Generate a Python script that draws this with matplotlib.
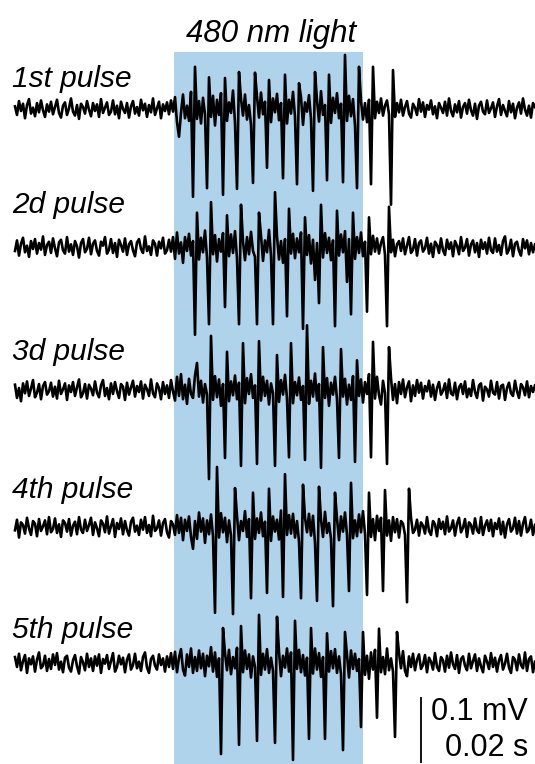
import numpy as np
import matplotlib
matplotlib.use("Agg")
import matplotlib.pyplot as plt
from matplotlib.patches import Rectangle

# ---------------- data ----------------
sample_ms = 0.25                      # time between samples (ms)
trace_labels = ["1st pulse", "2d pulse", "3d pulse", "4th pulse", "5th pulse"]
light_label = "480 nm light"
light_on_ms = 19.9
light_off_ms = 43.5
scale_bar_uV = 100                    # 0.1 mV
scale_v_label = "0.1 mV"
scale_t_label = "0.02 s"

# background recordings (µV), one value per sample
noise_1 = [4,-9,12,-3,8,-14,6,15,-7,2,-11,9,-5,13,-2,-12,7,-4,11,-8,
           3,14,-6,-13,5,10,-9,1,16,-4,-10,6,-15,8,3,-7,12,-1,-11,9,
           -3,7,-12,15,-6,2,10,-9,-4,13,-8,5,-14,11,0,-6,9,-13,4,12,
           -7,3,-10,14,-2,8,-12,6,-5,16,-9,1,11,-14,7,-3,10,-8,13,-4,
           18,-20,-42,-6,22,-14,5,-18,26,0,0,-15,12,-22,17,-8,0,0,-12,20,
           -25,14,-9,24,0,0,-18,10,-6,28,-21,0,0,15,-10,22,-16,6,-24,0,
           0,19,-13,25,-8,11,0,0,-20,16,-5,23,-17,9,0,0,-22,14,-7,26,
           -12,0,0,18,-24,10,-4,21,-15,0,0,13,-19,27,-9,6,0,0,-21,17,
           -6,24,-14,8,0,0,-18,20,-11,15,-25,0,0,12,-16,9,-20,14,0,0,
           -14,11,-6,16,-10,5,13,-8,0,0,-12,9,-5,14,-10,3,12,-7,-13,8,
           2,-9,15,-4,10,-12,6,-1,13,-8,4,-14,9,2,-6,11,-10,16,-3,-11,
           7,-5,12,-13,3,9,-7,14,-2,-10,8,-15,5,11,-4,-8,13,-6,1,10,
           -12,4,15,-9,6,-3,-11,12,-5,8,-14,2,10,-7,16,-1,-10,5,-13,9,
           3]
noise_2 = [-6,10,-13,5,14,-8,2,-15,9,-3,12,-10,6,-4,16,-12,3,8,-9,13,
           -2,-14,7,11,-5,-10,15,-7,4,-12,9,1,-16,6,12,-8,-3,14,-11,5,
           10,-6,-13,8,2,15,-10,-4,12,-9,6,-15,11,3,-7,13,-12,4,9,-5,
           -14,7,12,-3,-9,16,-6,1,-12,10,5,-13,8,-2,14,-10,-5,11,-7,15,
           -18,22,-10,7,-24,15,-6,20,-13,9,0,0,-19,14,-8,25,-16,0,0,-11,
           18,-22,12,-7,21,0,0,-14,19,-9,24,-17,0,0,8,-20,15,-11,23,-6,
           -15,0,0,17,-21,10,-8,26,-13,0,0,16,-19,9,-24,12,0,0,-10,20,
           -17,13,-8,22,0,0,-12,18,-25,11,-50,6,0,0,-16,21,-9,14,-20,10,
           0,0,-13,19,-8,24,-53,12,0,0,-18,15,-9,22,-14,8,0,0,-11,17,
           -7,13,-10,6,15,-12,0,0,-8,11,-14,4,9,-6,13,-11,2,15,-9,-4,
           12,-13,6,10,-7,-2,14,-10,5,-15,8,3,-9,13,-5,-12,11,-3,7,-14,
           9,2,-11,15,-6,-1,12,-13,4,10,-8,6,-15,11,-3,7,-10,14,-5,-9,
           13,-7,3,-12,9,16,-10,-4,11,-14,5,8,-6,-13,12,-2,10,-11,6,-8,
           4]
noise_3 = [8,-12,3,-17,10,-5,13,-9,2,15,-11,-4,9,-14,6,12,-7,-2,11,-10,
           5,-13,14,-6,1,10,-15,7,-3,12,-9,4,16,-11,-5,9,-13,8,2,-8,
           13,-4,-11,7,15,-9,3,-14,10,-6,12,-2,-12,9,5,-15,11,-7,4,14,
           -10,6,-3,13,-13,8,1,-9,16,-5,-11,10,3,-14,12,-6,7,-12,15,-2,
           -16,20,-9,24,-14,8,-21,17,-6,-12,22,41,-10,14,-19,9,-7,0,0,-15,
           21,-11,16,-24,9,0,0,-17,13,-8,22,-14,11,0,0,-20,18,-6,24,-12,
           7,0,0,-16,20,-9,14,-22,10,-5,0,0,-18,15,-7,23,-13,0,0,-20,
           12,-8,19,-15,6,0,0,-21,14,-10,25,-16,9,0,0,-12,18,-24,11,-7,
           20,-14,0,0,-10,17,-22,8,-15,21,0,0,-9,16,-19,12,-6,24,0,0,
           -13,20,-8,-22,14,-5,0,0,18,-15,9,-20,12,-6,16,-11,4,13,-17,7,
           -9,15,-4,11,-13,6,-2,14,-10,8,-15,3,12,-7,-1,10,-12,16,-5,-8,
           11,-14,4,9,-6,13,-11,2,-9,15,-3,-12,7,10,-16,5,1,-10,14,-4,
           -7,12,-13,6,8,-15,3,11,-5,-9,14,-2,-12,9,4,-8,13,-11,6,-3,
           7]
noise_4 = [-5,11,-16,7,3,-10,14,-2,-12,9,5,-14,12,-6,1,10,-11,15,-8,-3,
           13,-9,4,-15,10,6,-7,12,-13,2,8,-11,15,-4,-9,11,-6,3,14,-12,
           7,-2,-14,10,5,-8,16,-10,1,12,-15,6,-3,13,-11,9,-5,-13,8,14,
           -7,2,-12,11,-4,15,-9,3,-14,17,-6,-2,10,-13,6,12,-8,-16,9,4,
           -12,18,-9,14,-20,11,-6,16,-15,-33,9,-18,22,-7,13,-24,10,-11,19,-14,
           0,0,-16,21,-8,14,-23,10,-13,0,0,17,-20,9,-6,24,-15,12,0,0,
           -18,13,-9,22,-14,8,0,0,-21,16,-7,11,-19,25,0,0,-12,18,-10,20,
           -16,9,-22,0,0,14,-8,20,-13,17,-24,0,0,11,-15,23,-9,6,-18,0,
           0,13,-20,16,-7,22,-12,0,0,-17,10,-14,19,-8,24,-11,0,0,-15,12,
           -20,17,-6,14,0,0,-13,10,-21,15,-8,12,-16,9,5,-12,0,0,14,-9,
           -4,11,-13,7,2,-10,15,-6,-12,9,4,-14,12,-3,8,-11,16,-7,-2,10,
           -13,5,14,-8,-1,12,-15,7,3,-10,13,-5,-9,15,-12,2,10,-6,11,-14,
           6,-3,13,-11,8,-16,4,12,-7,-2,14,-10,9,-13,5,15,-8,-4,11,-12,
           3]
noise_5 = [9,-6,14,-11,3,12,-15,7,-2,10,-13,5,16,-8,-4,11,-12,6,-9,13,
           -3,15,-10,2,-14,8,11,-7,-13,4,12,-5,-16,9,1,-11,14,-6,7,-12,
           10,-4,13,-15,6,-1,12,-9,3,15,-13,-6,11,-2,8,-14,5,13,-10,-3,
           14,-8,2,-12,9,16,-7,-15,6,11,-4,-10,13,-3,7,-13,10,-6,15,-9,
           17,-14,8,21,-10,-19,13,-6,22,-15,9,-12,19,-8,14,-20,11,-5,24,-13,
           16,-21,7,0,0,15,-11,20,-17,9,-8,23,0,0,-14,19,-9,13,-22,10,
           -6,0,0,-18,14,-10,21,-15,8,-12,0,0,17,-20,11,-7,22,-13,16,0,
           0,-9,20,-14,12,-19,8,0,0,-16,22,-10,15,-21,9,0,0,-13,18,-8,
           21,-15,10,-17,0,0,13,-22,19,-9,14,-12,6,0,0,-18,11,-24,16,-10,
           20,0,0,-14,9,-17,22,-11,7,-13,0,0,15,-8,18,-12,-20,10,-6,14,
           -11,5,13,-9,-3,12,-14,8,2,-10,15,-6,-12,9,4,-13,11,-7,16,-2,
           -9,12,-15,6,10,-4,-11,14,-8,3,13,-12,7,-5,-14,11,2,-9,15,-6,
           8,-13,4,12,-10,-1,14,-7,-15,9,5,-11,13,-3,-8,16,-12,6,10,-14,
           2]

# evoked spikes: trough time (ms), trough (µV), following peak (µV)
spike_ms_1 = [22.25, 24.0, 26.0, 27.75, 29.75, 31.5, 33.5, 35.25, 37.25, 39.0, 41.0, 42.75, 44.5, 47.0]
spike_trough_1 = [-133, -120, -130, -121, -112, -89, -105, -114, -124, -108, -111, -120, -114, -145]
spike_peak_1 = [64, 48, 47, 56, 55, 44, 52, 39, 56, 52, 82, 64, 64, 59]

spike_ms_2 = [22.5, 24.25, 26.25, 28.0, 30.25, 32.25, 34.0, 36.0, 38.0, 40.0, 42.0, 44.0, 46.5]
spike_trough_2 = [-133, -117, -91, -117, -117, -117, -105, -124, -85, -120, -102, -98, -120]
spike_peak_2 = [52, 68, 48, 64, 52, 83, 58, 45, 64, 55, 52, 45, 61]

spike_ms_3 = [24.25, 26.25, 28.25, 30.25, 32.5, 34.25, 36.25, 38.25, 40.5, 42.5, 44.5, 46.5]
spike_trough_3 = [-135, -103, -115, -112, -115, -102, -106, -118, -103, -109, -102, -112]
spike_peak_3 = [82, 58, 71, 74, 53, 71, 98, 65, 62, 45, 73, 65]

spike_ms_4 = [25.0, 27.25, 29.5, 31.5, 33.5, 35.75, 37.75, 39.75, 41.75, 44.0, 46.0, 49.0]
spike_trough_4 = [-130, -132, -108, -100, -106, -108, -112, -120, -97, -103, -97, -114]
spike_peak_4 = [91, 59, 52, 58, 80, 64, 61, 52, 67, 52, 56, 58]

spike_ms_5 = [25.75, 28.0, 30.25, 32.5, 34.75, 36.75, 38.75, 41.0, 43.25, 45.25, 47.5]
spike_trough_5 = [-138, -124, -118, -121, -147, -115, -115, -132, -97, -83, -112]
spike_peak_5 = [53, 56, 73, 70, 64, 53, 45, 47, 47, 52, 47]

noises = [noise_1, noise_2, noise_3, noise_4, noise_5]
spikes = [(spike_ms_1, spike_trough_1, spike_peak_1),
          (spike_ms_2, spike_trough_2, spike_peak_2),
          (spike_ms_3, spike_trough_3, spike_peak_3),
          (spike_ms_4, spike_trough_4, spike_peak_4),
          (spike_ms_5, spike_trough_5, spike_peak_5)]

# ---------------- layout (pixels of the 535x764 figure) ----------------
W_PX, H_PX = 535, 764
X0_PX = 15.0            # pixel of t = 0
PX_PER_MS = 8.0
UV_PER_PX = 100.0 / 66.0
baselines_px = [109, 247, 390, 527, 663]
label_base_px = [87, 213, 360, 498, 638]
light_top_px = 52


def xd(px):
    return (px - X0_PX) / PX_PER_MS


def yd(px):
    return -px * UV_PER_PX


plt.rcParams['font.family'] = ['Liberation Sans', 'DejaVu Sans']

fig = plt.figure(figsize=(W_PX / 100, H_PX / 100), dpi=100)
ax = fig.add_axes([0, 0, 1, 1])
ax.set_xlim(xd(0), xd(W_PX))
ax.set_ylim(yd(H_PX), yd(0))
ax.axis('off')

# light period
ax.add_patch(Rectangle((light_on_ms, yd(H_PX)), light_off_ms - light_on_ms,
                       yd(light_top_px) - yd(H_PX), facecolor='#aed3ea',
                       edgecolor='none', zorder=0))
ax.text((light_on_ms + light_off_ms) / 2 + 0.3, yd(42), light_label,
        ha='center', va='baseline', fontsize=22.5, style='italic')

for k, (noise, (sms, str_, spk)) in enumerate(zip(noises, spikes)):
    v = np.array(noise, dtype=float)
    for t, tr, pk in zip(sms, str_, spk):
        i = int(round(t / sample_ms))
        v[i] = tr
        if i + 1 < len(v):
            v[i + 1] = pk
    t_axis = np.arange(len(v)) * sample_ms
    ax.plot(t_axis, yd(baselines_px[k]) + v, color='black', lw=1.9, zorder=2)
    ax.text(xd(12), yd(label_base_px[k]), trace_labels[k], ha='left',
            va='baseline', fontsize=21.5, style='italic', zorder=3)

# scale bar
bar_x = xd(420.7)
ax.plot([bar_x, bar_x], [yd(763), yd(763) + scale_bar_uV], color='black',
        lw=1.3, solid_capstyle='butt')
ax.text(xd(528), yd(712), scale_v_label, ha='right', va='center', fontsize=22)
ax.text(xd(528), yd(748), scale_t_label, ha='right', va='center', fontsize=22)

fig.savefig('out.png', dpi=100)
